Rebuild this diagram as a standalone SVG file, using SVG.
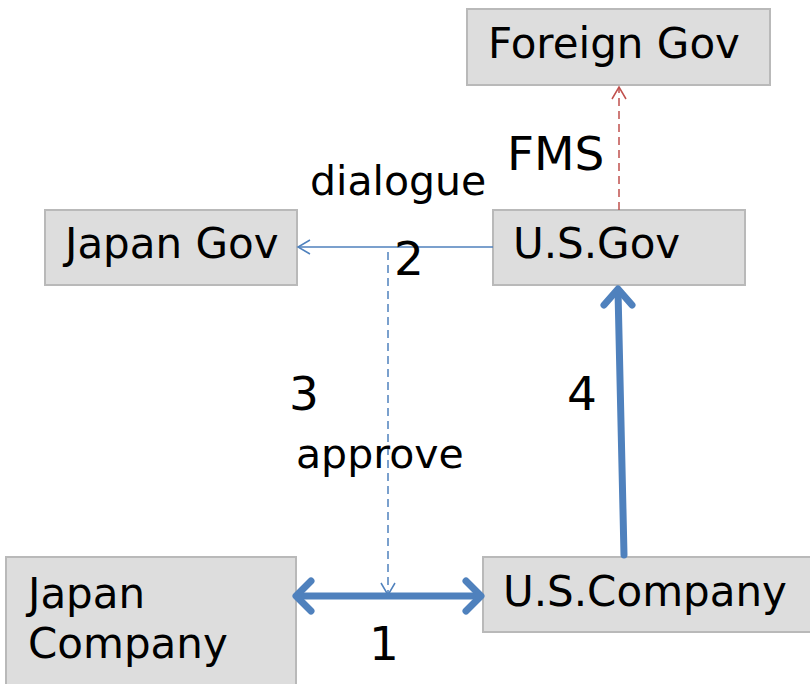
<svg xmlns="http://www.w3.org/2000/svg" width="810" height="684" viewBox="0 0 810 684">
<style>
.box{fill:#dddddd;stroke:#b9b9b9;stroke-width:2}
.t{font-family:"DejaVu Sans","Noto Sans",sans-serif;font-size:42px;fill:#000}
.n{font-size:47px}
.s{font-size:41px}
.thin{stroke:#4f81bd;stroke-width:1.5;fill:none}
.thick{stroke:#4f81bd;stroke-width:7;fill:none;stroke-linecap:round;stroke-linejoin:round}
</style>
<defs>
<marker id="openBlue" markerWidth="20" markerHeight="20" refX="14" refY="8" orient="auto" markerUnits="userSpaceOnUse" viewBox="0 0 20 16">
<path d="M2,1 L14,8 L2,15" fill="none" stroke="#4f81bd" stroke-width="1.5"/>
</marker>
<marker id="openRed" markerWidth="20" markerHeight="20" refX="14" refY="8" orient="auto" markerUnits="userSpaceOnUse" viewBox="0 0 20 16">
<path d="M2,1 L14,8 L2,15" fill="none" stroke="#c0504d" stroke-width="1.5"/>
</marker>
</defs>
<rect width="810" height="684" fill="#fff"/>
<g id="foreign-gov"><rect class="box" x="467" y="9" width="303" height="76"/><text class="t" x="488" y="58">Foreign Gov</text></g>
<g id="japan-gov"><rect class="box" x="45" y="210" width="252" height="75"/><text class="t" x="65" y="258">Japan Gov</text></g>
<g id="us-gov"><rect class="box" x="493" y="210" width="252" height="75"/><text class="t" x="513" y="258">U.S.Gov</text></g>
<g id="japan-company"><rect class="box" x="6" y="557" width="290" height="140"/><text class="t" x="28" y="608">Japan</text><text class="t" x="28" y="658">Company</text></g>
<g id="us-company"><rect class="box" x="483" y="557" width="340" height="75"/><text class="t" x="503" y="606">U.S.Company</text></g>
<g id="connectors">
<line x1="619" y1="210" x2="619" y2="87" stroke="#c0504d" stroke-width="1.5" stroke-dasharray="8,5" marker-end="url(#openRed)"/>
<line class="thin" x1="493" y1="247" x2="298" y2="247" marker-end="url(#openBlue)"/>
<line class="thin" x1="388" y1="252" x2="388" y2="595" stroke-dasharray="8,5" marker-end="url(#openBlue)"/>
<line class="thick" x1="298" y1="596" x2="479" y2="596"/>
<path class="thick" d="M311,581 L296,596 L311,611 M466,581 L481,596 L466,611"/>
<line class="thick" x1="624" y1="555" x2="618" y2="291"/>
<path class="thick" d="M604,305 L618,289 L632,305"/>
</g>
<g id="labels">
<text class="t" x="507" y="170" style="font-size:47px">FMS</text>
<text class="t s" x="310" y="195">dialogue</text>
<text class="t n" x="394" y="275">2</text>
<text class="t n" x="289" y="410">3</text>
<text class="t n" x="567" y="410">4</text>
<text class="t s" x="296" y="468">approve</text>
<text class="t n" x="369" y="660">1</text>
</g>
</svg>
